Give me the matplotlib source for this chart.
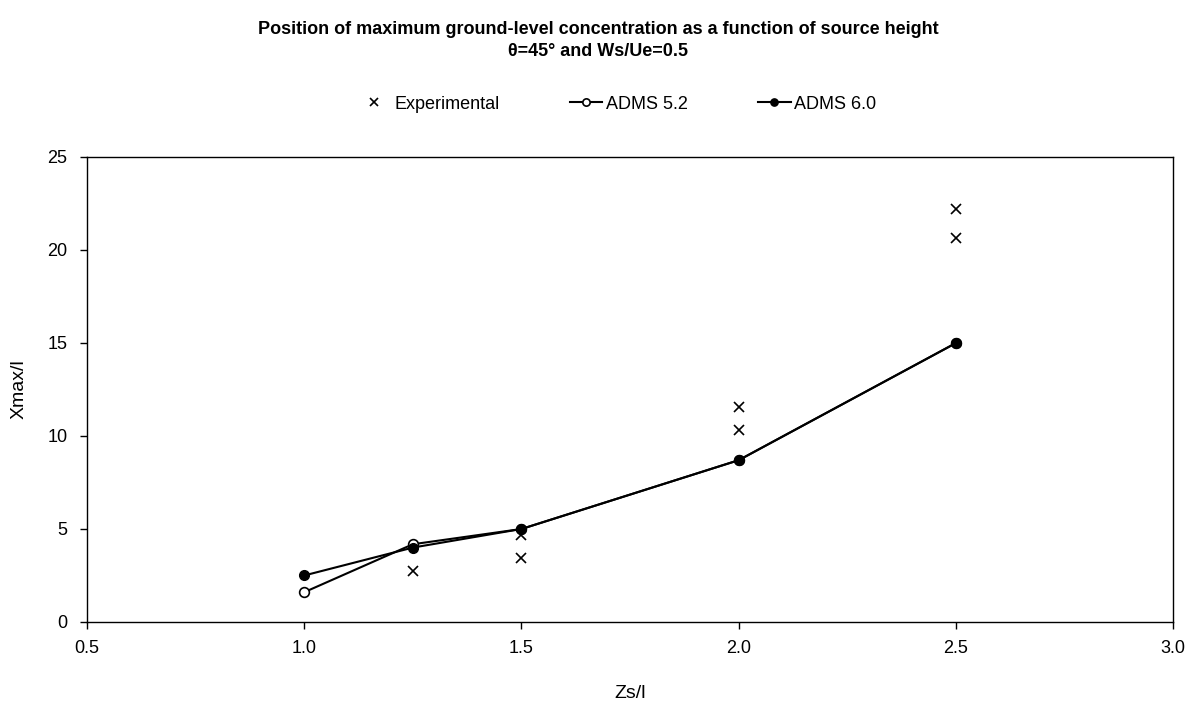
import matplotlib
matplotlib.use("Agg")
import matplotlib.pyplot as plt
from matplotlib import font_manager

names = {f.name for f in font_manager.fontManager.ttflist}
base = "Liberation Sans" if "Liberation Sans" in names else "DejaVu Sans"
narrow = "Liberation Sans Narrow" if "Liberation Sans Narrow" in names else base
plt.rcParams['font.family'] = [base, 'DejaVu Sans']

# Data
exp_x = [1.25, 1.5, 1.5, 2.0, 2.0, 2.5, 2.5]
exp_y = [2.76, 4.68, 3.44, 11.56, 10.32, 22.2, 20.65]
zs = [1.0, 1.25, 1.5, 2.0, 2.5]
adms52 = [1.6, 4.18, 5.0, 8.7, 15.0]
adms60 = [2.5, 4.0, 5.0, 8.7, 15.0]
xticks = [0.5, 1.0, 1.5, 2.0, 2.5, 3.0]
xticklabels = ['0.5', '1.0', '1.5', '2.0', '2.5', '3.0']
yticks = [0, 5, 10, 15, 20, 25]

fig = plt.figure(figsize=(11.96, 7.04), dpi=100)
ax = fig.add_axes([0.0727, 0.1165, 0.9083, 0.6605])

ax.plot(exp_x, exp_y, linestyle='none', marker='x', color='black', markersize=7, mew=1.2, label='Experimental')
ax.plot(zs, adms52, color='black', lw=1.5, marker='o', markersize=7, mfc='white', mec='black', mew=1.2, label='ADMS 5.2')
ax.plot(zs, adms60, color='black', lw=1.5, marker='o', markersize=7, mfc='black', mec='black', label='ADMS 6.0')

ax.set_xlim(0.5, 3.0)
ax.set_ylim(0, 25)
ax.set_xticks(xticks)
ax.set_xticklabels(xticklabels)
ax.set_yticks(yticks)
ax.tick_params(axis='both', labelsize=13, direction='out', length=5, width=1, colors='black')
ax.tick_params(axis='x', pad=8)
ax.tick_params(axis='y', pad=9)
for s in ax.spines.values():
    s.set_linewidth(1)
    s.set_color('black')

ax.set_xlabel('Zs/l', fontsize=14, labelpad=20)
ax.set_ylabel('Xmax/l', fontsize=14, labelpad=14)

fig.text(0.5, 0.958, 'Position of maximum ground-level concentration as a function of source height',
         ha='center', va='center', fontsize=13, fontweight='bold', family=[narrow, 'DejaVu Sans'])
fig.text(0.5, 0.927, 'θ=45° and Ws/Ue=0.5',
         ha='center', va='center', fontsize=13, fontweight='bold', family=[narrow, 'DejaVu Sans'])

fig.legend(loc='center', bbox_to_anchor=(0.516, 0.852), ncol=3, frameon=False, fontsize=13,
           handlelength=1.8, handletextpad=0.2, columnspacing=3.9, markerscale=0.75)

fig.savefig('out.png', dpi=100)
